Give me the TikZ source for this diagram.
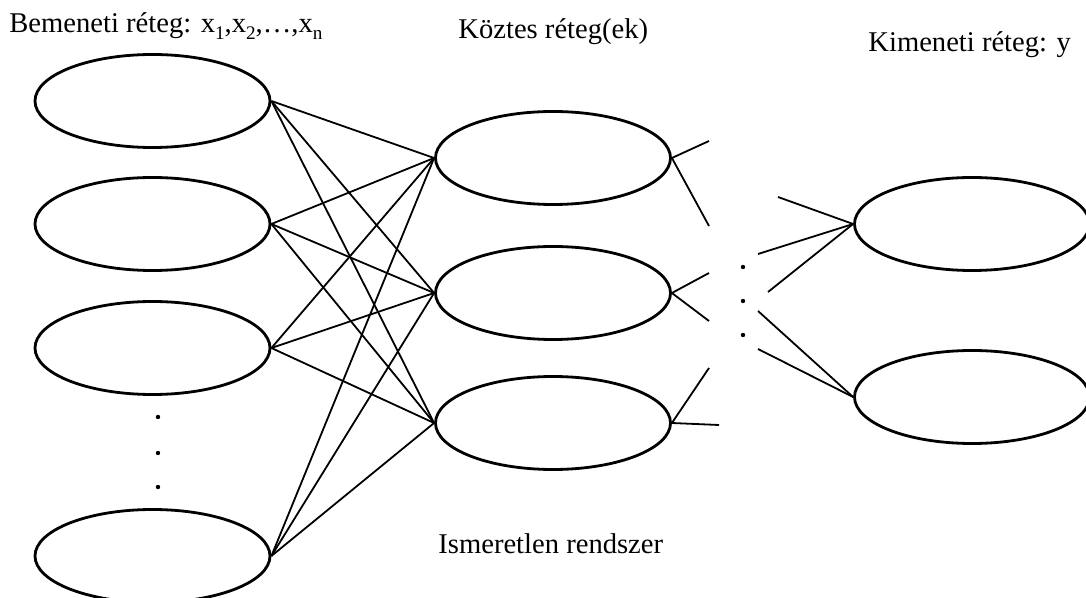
\documentclass[tikz,border=0pt]{standalone}
\usepackage{fontspec}
\setmainfont{Liberation Serif}
\usetikzlibrary{shapes.geometric}
\newcommand{\lsub}[1]{\raisebox{-0.22em}{\fontsize{9.6pt}{10pt}\selectfont #1}}
\tikzset{
  neuron/.style={draw, ellipse, line width=1.4pt, inner sep=0pt, minimum width=117.5pt, minimum height=46.5pt},
  conn/.style={line width=0.9pt},
  lbl/.style={anchor=base west, inner sep=0pt, font=\fontsize{14.3pt}{17pt}\selectfont},
  dotmark/.style={fill=black, draw=none}
}
\begin{document}
\begin{tikzpicture}[x=0.5pt, y=-0.5pt]
\useasboundingbox (0,0) rectangle (1086,598);
% input layer
\node[neuron] (in1) at (152.5,101) {};
\node[neuron] (in2) at (152.5,224) {};
\node[neuron] (in3) at (152.5,348) {};
\node[neuron] (in4) at (152.5,556) {};
% hidden layer
\node[neuron] (h1) at (553,158) {};
\node[neuron] (h2) at (553,293) {};
\node[neuron] (h3) at (553,423) {};
% output layer
\node[neuron] (o1) at (972,224) {};
\node[neuron] (o2) at (972,397) {};
% full connections input -> hidden
\foreach \i in {1,2,3,4}{
  \foreach \j in {1,2,3}{
    \draw[conn] (in\i.east) -- (h\j.west);
  }
}
% partial connections
\coordinate (a1) at (709,141);
\coordinate (a2) at (709,226);
\coordinate (b1) at (709,273);
\coordinate (b2) at (709,321);
\coordinate (c1) at (709,368);
\coordinate (c2) at (719,425);
\coordinate (d1) at (778,197);
\coordinate (d2) at (758,254);
\coordinate (d3) at (768,292);
\coordinate (e1) at (758,311);
\coordinate (e2) at (758,349);
\draw[conn] (h1.east) -- (a1);
\draw[conn] (h1.east) -- (a2);
\draw[conn] (h2.east) -- (b1);
\draw[conn] (h2.east) -- (b2);
\draw[conn] (h3.east) -- (c1);
\draw[conn] (h3.east) -- (c2);
\draw[conn] (d1) -- (o1.west);
\draw[conn] (d2) -- (o1.west);
\draw[conn] (d3) -- (o1.west);
\draw[conn] (e1) -- (o2.west);
\draw[conn] (e2) -- (o2.west);
% dots
\foreach \y in {417,453,487}{ \fill[dotmark] (158,\y) circle (1.1pt); }
\foreach \y in {267,301,335}{ \fill[dotmark] (743,\y) circle (1.1pt); }
% labels
\node[lbl] (tin) at (9,33) {Bemeneti réteg: x\lsub{1},x\lsub{2},…,x\lsub{n}};
\node[lbl] (thid) at (458,39) {Köztes réteg(ek)};
\node[lbl] (tout) at (868,52) {Kimeneti réteg: y};
\node[lbl] (tsys) at (438,553) {Ismeretlen rendszer};
\end{tikzpicture}
\end{document}
